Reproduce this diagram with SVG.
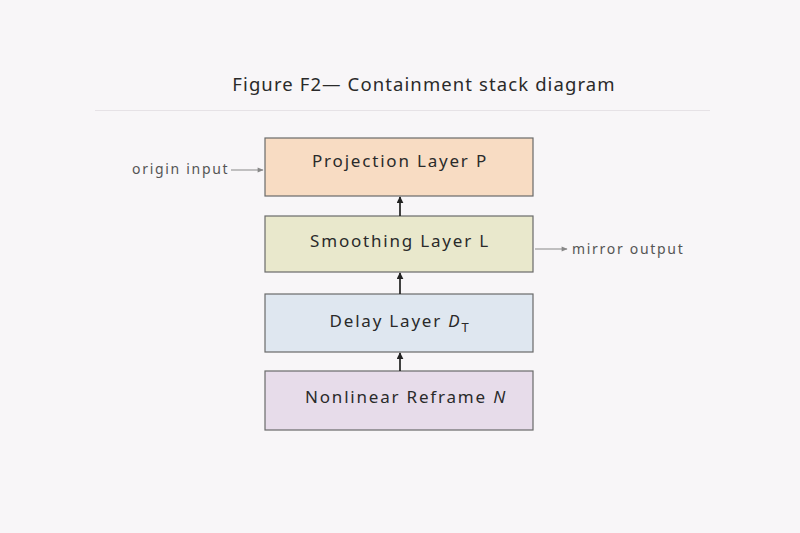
<svg xmlns="http://www.w3.org/2000/svg" width="800" height="533" viewBox="0 0 800 533">
<style>
.bg{fill:#f8f6f8}
.box{stroke:#6a6a6a;stroke-width:1.2}
.lbl{font-family:"Noto Sans","Open Sans",sans-serif;font-size:17px;letter-spacing:1.8px;fill:#2a2a2a;text-anchor:middle}
.side{font-family:"Noto Sans","Open Sans",sans-serif;font-size:14px;letter-spacing:1.7px;fill:#555}
.title{font-family:"Noto Sans","Open Sans",sans-serif;font-size:18.5px;letter-spacing:1.1px;fill:#2a2a2a;text-anchor:middle}
.up{stroke:#222;stroke-width:1.7;fill:none;marker-end:url(#ah)}
.gr{stroke:#888;stroke-width:1;fill:none;marker-end:url(#ag)}
</style>
<defs>
<marker id="ah" viewBox="0 0 10 10" refX="9" refY="5" markerWidth="7" markerHeight="7" orient="auto" markerUnits="userSpaceOnUse"><path d="M0,0 L10,5 L0,10 z" fill="#222"/></marker>
<marker id="ag" viewBox="0 0 10 10" refX="9" refY="5" markerWidth="7" markerHeight="6" orient="auto" markerUnits="userSpaceOnUse"><path d="M0,1 L10,5 L0,9 z" fill="#888"/></marker>
</defs>
<rect class="bg" width="800" height="533"/>
<text class="title" x="424" y="91">Figure F2— Containment stack diagram</text>
<line x1="95" y1="110.5" x2="710" y2="110.5" stroke="#e6e2e6" stroke-width="1"/>
<g id="node-projection">
<rect class="box" x="265" y="138" width="268" height="58" fill="#f8dcc3"/>
<text class="lbl" x="400" y="167">Projection Layer P</text>
</g>
<g id="node-smoothing">
<rect class="box" x="265" y="216" width="268" height="56" fill="#e9e8cc"/>
<text class="lbl" x="400" y="247">Smoothing Layer L</text>
</g>
<g id="node-delay">
<rect class="box" x="265" y="294" width="268" height="58" fill="#dfe7f0"/>
<text class="lbl" x="400" y="327">Delay Layer <tspan font-style="italic">D</tspan><tspan font-size="13" dy="5">T</tspan></text>
</g>
<g id="node-nonlinear">
<rect class="box" x="265" y="371" width="268" height="59" fill="#e7dcea"/>
<text class="lbl" x="406" y="403">Nonlinear Reframe <tspan font-style="italic">N</tspan></text>
</g>
<g id="origin-label"><text class="side" x="132" y="174">origin input</text></g>
<g id="mirror-label"><text class="side" x="572" y="254">mirror output</text></g>
<g id="connectors">
<line class="up" x1="400" y1="216" x2="400" y2="197"/>
<line class="up" x1="400" y1="294" x2="400" y2="273"/>
<line class="up" x1="400" y1="371" x2="400" y2="353"/>
<line class="gr" x1="231" y1="170" x2="263" y2="170"/>
<line class="gr" x1="535" y1="249" x2="567" y2="249"/>
</g>
</svg>
